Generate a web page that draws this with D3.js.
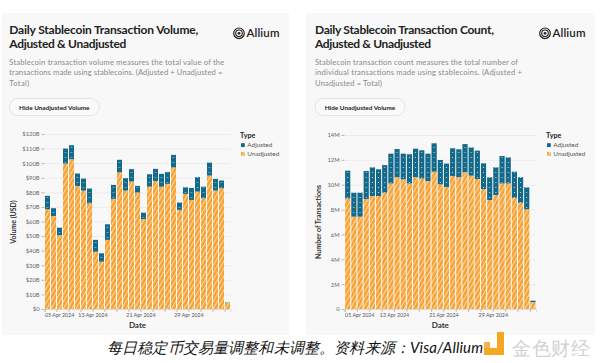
<!DOCTYPE html>
<html><head><meta charset="utf-8">
<script src="https://cdn.jsdelivr.net/npm/d3@7/dist/d3.min.js"></script>
<style>
body{margin:0;background:#fff;}
svg text{font-family:Lato,"Noto Sans",sans-serif;}
</style></head><body>
<svg id="c" width="600" height="363"></svg>
<script>
// ---------- data ----------
const dates = ["2024-04-05","2024-04-06","2024-04-07","2024-04-08","2024-04-09","2024-04-10","2024-04-11","2024-04-12",
  "2024-04-13","2024-04-14","2024-04-15","2024-04-16","2024-04-17","2024-04-18","2024-04-19","2024-04-20","2024-04-21",
  "2024-04-22","2024-04-23","2024-04-24","2024-04-25","2024-04-26","2024-04-27","2024-04-28","2024-04-29","2024-04-30",
  "2024-05-01","2024-05-02","2024-05-03","2024-05-04","2024-05-05"];
const labelDates = ["05 Apr 2024","13 Apr 2024","21 Apr 2024","29 Apr 2024"];
const seriesNames = ["Adjusted","Unadjusted"];
// Volume, $B
const volumeUnadjusted = [68.4,63.8,50.6,99.7,102.7,84.4,81.2,72.5,39.3,32.5,47.4,75.5,93.6,81.2,87.4,79.8,61.6,83.9,87.8,83.9,85.8,97.0,68.0,78.9,74.8,80.5,76.0,91.5,81.2,82.8,4.2];
const volumeAdjusted   = [9.2,5.3,5.2,10.3,9.6,8.5,8.2,10.1,8.1,5.7,10.7,9.6,8.7,8.5,8.5,4.6,4.5,8.5,8.3,8.8,8.2,8.7,5.0,4.6,8.2,9.9,7.9,8.9,8.0,5.3,0.3];
const volumeTicks = [0,10,20,30,40,50,60,70,80,90,100,110,120];
// Count, millions
const countUnadjusted = [8.9,7.43,7.43,8.85,9.09,9.09,9.36,10.1,10.6,10.43,10.1,10.6,10.5,10.3,11.05,10.03,9.82,10.7,10.6,11.0,10.73,10.46,9.65,8.77,9.17,10.1,10.1,8.95,8.55,8.02,0.55];
const countAdjusted   = [2.23,1.93,1.93,2.25,2.31,2.15,2.22,2.4,2.27,2.07,2.35,2.3,2.27,2.2,2.28,1.96,1.88,2.23,2.25,2.27,2.27,2.28,2.07,1.83,2.23,2.21,2.1,2.1,2.05,1.77,0.12];
const countTicks = [0,2,4,6,8,10,12,14];

const BLUE = "#13698a", ORANGE = "#f7a131";
const svg = d3.select("#c");
const defs = svg.append("defs");

const parse = d3.utcParse("%Y-%m-%d");
const fmt = d3.utcFormat("%d %b %Y");

// stripe pattern for orange
const st = defs.append("pattern").attr("id","stripes").attr("patternUnits","userSpaceOnUse")
  .attr("width",3.6).attr("height",10).attr("patternTransform","rotate(30)");
st.append("rect").attr("width",3.6).attr("height",10).attr("fill",ORANGE);
st.append("line").attr("x1",0.6).attr("x2",0.6).attr("y1",0).attr("y2",10)
  .attr("stroke","#fff").attr("stroke-opacity",0.75).attr("stroke-width",0.9);

function dotPattern(id, w, x0){
  const p = defs.append("pattern").attr("id",id).attr("patternUnits","userSpaceOnUse")
    .attr("width",w).attr("height",5).attr("x",x0).attr("y",0);
  p.append("rect").attr("width",w).attr("height",5).attr("fill",BLUE);
  p.append("circle").attr("cx",w/2).attr("cy",2.5).attr("r",0.6).attr("fill","#fff").attr("fill-opacity",0.85);
}

function panel(o){
  const g = svg.append("g");
  g.append("rect").attr("x",o.px).attr("y",13).attr("width",o.pw).attr("height",322).attr("fill","#f8f8f8");
  o.title.forEach((t,i)=>g.append("text").attr("x",o.tx).attr("y",34+i*14.3).attr("font-size",12)
    .attr("font-weight",700).attr("fill","#222").attr("textLength",o.titleLen[i]).attr("lengthAdjust","spacing").text(t));
  o.sub.forEach((t,i)=>g.append("text").attr("x",o.tx).attr("y",64.5+i*10.5).attr("font-size",7.6)
    .attr("fill","#8a8a8a").attr("textLength",o.subLen[i]).attr("lengthAdjust","spacing").text(t));
  // button
  g.append("rect").attr("x",o.tx).attr("y",98.5).attr("width",90).attr("height",17).attr("rx",8.5)
    .attr("fill","#fafafa").attr("stroke","#dedede").attr("stroke-width",0.8);
  g.append("text").attr("x",o.tx+45).attr("y",109.5).attr("text-anchor","middle").attr("font-size",6.4)
    .attr("font-weight",700).attr("fill","#222").text("Hide Unadjusted Volume");
  // logo
  const lx=o.logoX, ly=33.3;
  g.append("circle").attr("cx",lx).attr("cy",ly).attr("r",5.3).attr("fill","none").attr("stroke","#222").attr("stroke-width",1.2);
  g.append("circle").attr("cx",lx).attr("cy",ly).attr("r",3.3).attr("fill","none").attr("stroke","#222").attr("stroke-width",1.1);
  g.append("circle").attr("cx",lx).attr("cy",ly).attr("r",1.4).attr("fill","#222");
  g.append("text").attr("x",lx+7.5).attr("y",37.3).attr("font-size",11.5).attr("font-weight",600)
    .attr("fill","#222").attr("textLength",33).attr("lengthAdjust","spacing").text("Allium");
}

function chart(o){
  const g = svg.append("g");
  const d0 = parse(dates[0]), dEnd = d3.utcDay.offset(parse(dates[dates.length-1]),1);
  const x = d3.scaleUtc().domain([d0,dEnd]).range([o.x0,o.x1]);
  const y = d3.scaleLinear().domain([0,o.max]).range([309,o.yTop]);
  const step = (o.x1-o.x0)/dates.length;
  dotPattern(o.id+"dots", step, o.x0);

  // grid + y axis
  const ya = g.append("g").attr("transform",`translate(${o.x0},0)`)
    .call(d3.axisLeft(y).tickValues(o.ticks).tickFormat(o.tf).tickSize(3).tickPadding(2));
  ya.select(".domain").remove();
  ya.selectAll(".tick line").attr("stroke","#b5b5b5");
  ya.selectAll(".tick text").attr("font-size",5.8).attr("fill","#666").attr("font-family","Lato,sans-serif");
  ya.selectAll(".tick").append("line").attr("x1",0).attr("x2",o.x1-o.x0).attr("stroke","#e7e7e7").attr("stroke-width",0.7);

  // stacked bars
  const rows = dates.map((d,i)=>({date:parse(d), Unadjusted:o.un[i], Adjusted:o.adj[i]}));
  const stack = d3.stack().keys(["Unadjusted","Adjusted"])(rows);
  const fills = {Unadjusted:"url(#stripes)", Adjusted:`url(#${o.id}dots)`};
  stack.forEach(layer=>{
    g.append("g").selectAll("rect").data(layer).join("rect")
      .attr("x",d=>x(d.data.date)+0.5)
      .attr("width",d=>x(d3.utcDay.offset(d.data.date,1))-x(d.data.date)-1)
      .attr("y",d=>y(d[1]))
      .attr("height",d=>Math.max(0,y(d[0])-y(d[1])))
      .attr("fill",fills[layer.key]);
  });

  // x axis
  const tickVals = d3.utcDay.every(2).range(d0,dEnd);
  const xa = g.append("g").attr("transform","translate(0,309)")
    .call(d3.axisBottom(x).tickValues(tickVals).tickSize(3).tickPadding(1.5)
      .tickFormat(d=>labelDates.includes(fmt(d))?fmt(d):""));
  xa.select(".domain").attr("stroke","#cfcfcf").attr("stroke-width",0.6);
  xa.selectAll(".tick line").attr("stroke","#9a9a9a").attr("stroke-width",0.6);
  xa.selectAll(".tick text").attr("font-size",5.3).attr("fill","#555").attr("font-family","Lato,sans-serif")
    .attr("text-anchor",(d,i)=>i===0?"start":"middle");

  // axis titles
  g.append("text").attr("x",(o.x0+o.x1)/2).attr("y",328).attr("text-anchor","middle")
    .attr("font-size",8).attr("font-weight",700).attr("fill","#333").text("Date");
  g.append("text").attr("transform",`translate(${o.ytx},${o.yty}) rotate(-90)`).attr("text-anchor","middle")
    .attr("font-size",7).attr("font-weight",700).attr("fill","#333").text(o.ytitle);

  // legend
  const lg = g.append("g").attr("transform",`translate(${o.lx},0)`);
  lg.append("text").attr("x",0).attr("y",137.5).attr("font-size",7.2).attr("font-weight",700).attr("fill","#222").text("Type");
  seriesNames.forEach((s,i)=>{
    const yy = 143.2+i*8.9;
    lg.append("rect").attr("x",1).attr("y",yy).attr("width",3.8).attr("height",3.8)
      .attr("fill", s==="Adjusted"?BLUE:"url(#stripes)");
    lg.append("text").attr("x",7.3).attr("y",yy+3.6).attr("font-size",6.4).attr("fill","#555").text(s);
  });
}

panel({px:2,pw:287,tx:9.3,title:["Daily Stablecoin Transaction Volume,","Adjusted & Unadjusted"],titleLen:[189,117],
  sub:["Stablecoin transaction volume measures the total value of the","transactions made using stablecoins. (Adjusted + Unadjusted =","Total)"],
  subLen:[215,213,20], logoX:239});
panel({px:306,pw:289,tx:315,title:["Daily Stablecoin Transaction Count,","Adjusted & Unadjusted"],titleLen:[179,116],
  sub:["Stablecoin transaction count measures the total number of","individual transactions made using stablecoins. (Adjusted +","Unadjusted = Total)"],
  subLen:[203,207,67], logoX:545});

chart({id:"v",x0:44.5,x1:230.5,yTop:134,max:120,ticks:volumeTicks,tf:d=>"$"+d+(d===0?"":"B"),
  un:volumeUnadjusted,adj:volumeAdjusted,ytitle:"Volume (USD)",ytx:16,yty:222,lx:240});
chart({id:"n",x0:344.6,x1:536,yTop:135,max:14,ticks:countTicks,tf:d=>d+(d===0?"":"M"),
  un:countUnadjusted,adj:countAdjusted,ytitle:"Number of Transactions",ytx:321,yty:222,lx:546});

// caption
svg.append("text").attr("x",107).attr("y",353).attr("font-size",15).attr("font-style","italic")
  .attr("font-family","'Noto Sans CJK SC','Noto Sans',sans-serif").attr("fill","#111")
  .attr("textLength",376).attr("lengthAdjust","spacing").text("每日稳定币交易量调整和未调整。资料来源：Visa/Allium");
// watermark
const wm = svg.append("g");
wm.append("rect").attr("x",484).attr("y",342).attr("width",6).attr("height",6).attr("fill","#f6b24a");
wm.append("rect").attr("x",497).attr("y",332).attr("width",7).attr("height",16).attr("fill","#f5a623");
wm.append("rect").attr("x",484).attr("y",348).attr("width",20).attr("height",7).attr("fill","#f5a623");
wm.append("text").attr("x",512).attr("y",355).attr("font-size",19).attr("fill","#d2d2d2")
  .attr("font-family","'Noto Sans CJK SC',sans-serif").attr("textLength",78).text("金色财经");
</script>
</body></html>
